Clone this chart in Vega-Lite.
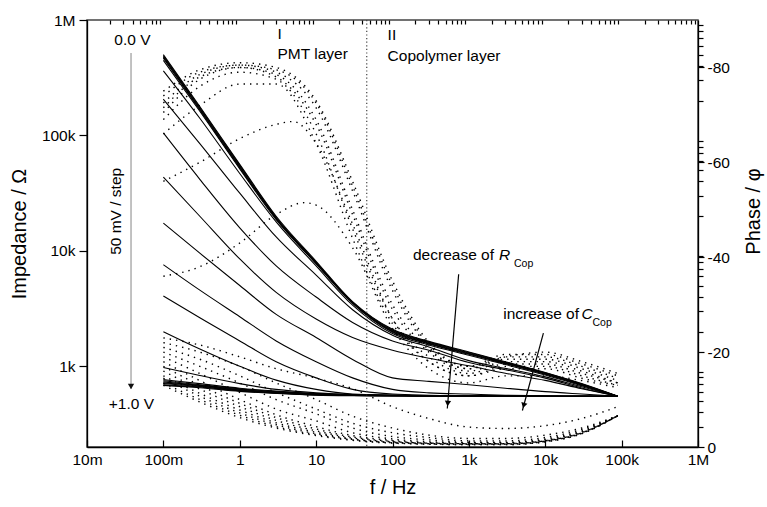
{
"$schema": "https://vega.github.io/schema/vega-lite/v6.json",
"width": 611, "height": 427,
"autosize": {"type": "none"},
"padding": {"left": 87, "top": 20, "right": 69, "bottom": 60},
"config": {
  "font": "Liberation Sans",
  "view": {"stroke": "#444", "strokeWidth": 1.5},
  "axis": {"labelFont": "Liberation Sans", "labelFontSize": 15.5, "labelColor": "#000", "titleFont": "Liberation Sans", "titleFontSize": 20, "titleFontWeight": "normal", "titleColor": "#000", "domainColor": "#000", "tickColor": "#000", "grid": false, "domainWidth": 1.3, "tickWidth": 1.2}
},
"datasets": {
"imp": [
{"c":0,"f":0.1,"z":501000},{"c":0,"f":0.3,"z":178000},{"c":0,"f":1,"z":56200},{"c":0,"f":3,"z":19950},{"c":0,"f":10,"z":8130},{"c":0,"f":30,"z":3630},{"c":0,"f":100,"z":2090},{"c":0,"f":300,"z":1644},{"c":0,"f":1000,"z":1330},{"c":0,"f":3000,"z":1096},{"c":0,"f":10000,"z":885},{"c":0,"f":30000,"z":708},{"c":0,"f":89000,"z":550},
{"c":1,"f":0.1,"z":490000},{"c":1,"f":0.3,"z":174000},{"c":1,"f":1,"z":55000},{"c":1,"f":3,"z":19500},{"c":1,"f":10,"z":7940},{"c":1,"f":30,"z":3590},{"c":1,"f":100,"z":2060},{"c":1,"f":300,"z":1625},{"c":1,"f":1000,"z":1315},{"c":1,"f":3000,"z":1085},{"c":1,"f":10000,"z":877},{"c":1,"f":30000,"z":703},{"c":1,"f":89000,"z":550},
{"c":2,"f":0.1,"z":479000},{"c":2,"f":0.3,"z":170000},{"c":2,"f":1,"z":53700},{"c":2,"f":3,"z":19050},{"c":2,"f":10,"z":7940},{"c":2,"f":30,"z":3550},{"c":2,"f":100,"z":2030},{"c":2,"f":300,"z":1605},{"c":2,"f":1000,"z":1300},{"c":2,"f":3000,"z":1075},{"c":2,"f":10000,"z":870},{"c":2,"f":30000,"z":698},{"c":2,"f":89000,"z":550},
{"c":3,"f":0.1,"z":468000},{"c":3,"f":0.3,"z":166000},{"c":3,"f":1,"z":52500},{"c":3,"f":3,"z":19050},{"c":3,"f":10,"z":7760},{"c":3,"f":30,"z":3550},{"c":3,"f":100,"z":2000},{"c":3,"f":300,"z":1585},{"c":3,"f":1000,"z":1285},{"c":3,"f":3000,"z":1065},{"c":3,"f":10000,"z":862},{"c":3,"f":30000,"z":693},{"c":3,"f":89000,"z":550},
{"c":4,"f":0.1,"z":447000},{"c":4,"f":0.3,"z":162000},{"c":4,"f":1,"z":51300},{"c":4,"f":3,"z":18600},{"c":4,"f":10,"z":7760},{"c":4,"f":30,"z":3510},{"c":4,"f":100,"z":1970},{"c":4,"f":300,"z":1565},{"c":4,"f":1000,"z":1270},{"c":4,"f":3000,"z":1055},{"c":4,"f":10000,"z":855},{"c":4,"f":30000,"z":688},{"c":4,"f":89000,"z":550},
{"c":5,"f":0.1,"z":363000},{"c":5,"f":0.3,"z":141000},{"c":5,"f":1,"z":46800},{"c":5,"f":3,"z":17800},{"c":5,"f":10,"z":7410},{"c":5,"f":30,"z":3390},{"c":5,"f":100,"z":1920},{"c":5,"f":300,"z":1530},{"c":5,"f":1000,"z":1245},{"c":5,"f":3000,"z":1035},{"c":5,"f":10000,"z":840},{"c":5,"f":30000,"z":680},{"c":5,"f":89000,"z":550},
{"c":6,"f":0.1,"z":206000},{"c":6,"f":0.3,"z":85100},{"c":6,"f":1,"z":31600},{"c":6,"f":3,"z":13200},{"c":6,"f":10,"z":6170},{"c":6,"f":30,"z":3090},{"c":6,"f":100,"z":1860},{"c":6,"f":300,"z":1470},{"c":6,"f":1000,"z":1120},{"c":6,"f":3000,"z":960},{"c":6,"f":10000,"z":810},{"c":6,"f":30000,"z":665},{"c":6,"f":89000,"z":550},
{"c":7,"f":0.1,"z":105000},{"c":7,"f":0.3,"z":41700},{"c":7,"f":1,"z":15850},{"c":7,"f":3,"z":7410},{"c":7,"f":10,"z":3980},{"c":7,"f":30,"z":2400},{"c":7,"f":100,"z":1660},{"c":7,"f":300,"z":1380},{"c":7,"f":1000,"z":1080},{"c":7,"f":3000,"z":935},{"c":7,"f":10000,"z":790},{"c":7,"f":30000,"z":650},{"c":7,"f":89000,"z":550},
{"c":8,"f":0.1,"z":43600},{"c":8,"f":0.3,"z":19950},{"c":8,"f":1,"z":8510},{"c":8,"f":3,"z":4370},{"c":8,"f":10,"z":2570},{"c":8,"f":30,"z":1778},{"c":8,"f":100,"z":1380},{"c":8,"f":300,"z":1175},{"c":8,"f":1000,"z":1010},{"c":8,"f":3000,"z":870},{"c":8,"f":10000,"z":755},{"c":8,"f":30000,"z":640},{"c":8,"f":89000,"z":550},
{"c":9,"f":0.1,"z":17400},{"c":9,"f":0.3,"z":9550},{"c":9,"f":1,"z":5010},{"c":9,"f":3,"z":2820},{"c":9,"f":10,"z":1778},{"c":9,"f":30,"z":1148},{"c":9,"f":100,"z":794},{"c":9,"f":300,"z":741},{"c":9,"f":1000,"z":692},{"c":9,"f":3000,"z":646},{"c":9,"f":10000,"z":603},{"c":9,"f":30000,"z":575},{"c":9,"f":89000,"z":550},
{"c":10,"f":0.1,"z":7590},{"c":10,"f":0.3,"z":4570},{"c":10,"f":1,"z":2690},{"c":10,"f":3,"z":1660},{"c":10,"f":10,"z":1096},{"c":10,"f":30,"z":794},{"c":10,"f":100,"z":631},{"c":10,"f":300,"z":589},{"c":10,"f":1000,"z":575},{"c":10,"f":3000,"z":562},{"c":10,"f":10000,"z":556},{"c":10,"f":30000,"z":550},{"c":10,"f":89000,"z":550},
{"c":11,"f":0.1,"z":4070},{"c":11,"f":0.3,"z":2630},{"c":11,"f":1,"z":1660},{"c":11,"f":3,"z":1096},{"c":11,"f":10,"z":794},{"c":11,"f":30,"z":631},{"c":11,"f":100,"z":575},{"c":11,"f":300,"z":562},{"c":11,"f":1000,"z":556},{"c":11,"f":3000,"z":556},{"c":11,"f":10000,"z":550},{"c":11,"f":30000,"z":550},{"c":11,"f":89000,"z":550},
{"c":12,"f":0.1,"z":1995},{"c":12,"f":0.3,"z":1413},{"c":12,"f":1,"z":1000},{"c":12,"f":3,"z":759},{"c":12,"f":10,"z":631},{"c":12,"f":30,"z":575},{"c":12,"f":100,"z":562},{"c":12,"f":300,"z":556},{"c":12,"f":1000,"z":556},{"c":12,"f":3000,"z":556},{"c":12,"f":10000,"z":550},{"c":12,"f":30000,"z":550},{"c":12,"f":89000,"z":550},
{"c":13,"f":0.1,"z":977},{"c":13,"f":0.3,"z":832},{"c":13,"f":1,"z":708},{"c":13,"f":3,"z":631},{"c":13,"f":10,"z":589},{"c":13,"f":30,"z":569},{"c":13,"f":100,"z":562},{"c":13,"f":300,"z":556},{"c":13,"f":1000,"z":556},{"c":13,"f":3000,"z":556},{"c":13,"f":10000,"z":550},{"c":13,"f":30000,"z":550},{"c":13,"f":89000,"z":550},
{"c":14,"f":0.1,"z":767},{"c":14,"f":0.3,"z":708},{"c":14,"f":1,"z":646},{"c":14,"f":3,"z":610},{"c":14,"f":10,"z":582},{"c":14,"f":30,"z":569},{"c":14,"f":100,"z":562},{"c":14,"f":300,"z":556},{"c":14,"f":1000,"z":556},{"c":14,"f":3000,"z":556},{"c":14,"f":10000,"z":550},{"c":14,"f":30000,"z":550},{"c":14,"f":89000,"z":550},
{"c":15,"f":0.1,"z":750},{"c":15,"f":0.3,"z":692},{"c":15,"f":1,"z":638},{"c":15,"f":3,"z":603},{"c":15,"f":10,"z":578},{"c":15,"f":30,"z":565},{"c":15,"f":100,"z":560},{"c":15,"f":300,"z":556},{"c":15,"f":1000,"z":556},{"c":15,"f":3000,"z":556},{"c":15,"f":10000,"z":550},{"c":15,"f":30000,"z":550},{"c":15,"f":89000,"z":550},
{"c":16,"f":0.1,"z":733},{"c":16,"f":0.3,"z":684},{"c":16,"f":1,"z":631},{"c":16,"f":3,"z":598},{"c":16,"f":10,"z":575},{"c":16,"f":30,"z":562},{"c":16,"f":100,"z":558},{"c":16,"f":300,"z":555},{"c":16,"f":1000,"z":555},{"c":16,"f":3000,"z":554},{"c":16,"f":10000,"z":550},{"c":16,"f":30000,"z":550},{"c":16,"f":89000,"z":550},
{"c":17,"f":0.1,"z":716},{"c":17,"f":0.3,"z":676},{"c":17,"f":1,"z":624},{"c":17,"f":3,"z":592},{"c":17,"f":10,"z":571},{"c":17,"f":30,"z":562},{"c":17,"f":100,"z":557},{"c":17,"f":300,"z":554},{"c":17,"f":1000,"z":554},{"c":17,"f":3000,"z":553},{"c":17,"f":10000,"z":550},{"c":17,"f":30000,"z":549},{"c":17,"f":89000,"z":549},
{"c":18,"f":0.1,"z":708},{"c":18,"f":0.3,"z":668},{"c":18,"f":1,"z":617},{"c":18,"f":3,"z":589},{"c":18,"f":10,"z":569},{"c":18,"f":30,"z":560},{"c":18,"f":100,"z":556},{"c":18,"f":300,"z":554},{"c":18,"f":1000,"z":553},{"c":18,"f":3000,"z":552},{"c":18,"f":10000,"z":549},{"c":18,"f":30000,"z":549},{"c":18,"f":89000,"z":549},
{"c":19,"f":0.1,"z":692},{"c":19,"f":0.3,"z":661},{"c":19,"f":1,"z":612},{"c":19,"f":3,"z":585},{"c":19,"f":10,"z":565},{"c":19,"f":30,"z":558},{"c":19,"f":100,"z":555},{"c":19,"f":300,"z":553},{"c":19,"f":1000,"z":552},{"c":19,"f":3000,"z":551},{"c":19,"f":10000,"z":549},{"c":19,"f":30000,"z":548},{"c":19,"f":89000,"z":548},
{"c":20,"f":0.1,"z":684},{"c":20,"f":0.3,"z":653},{"c":20,"f":1,"z":607},{"c":20,"f":3,"z":582},{"c":20,"f":10,"z":562},{"c":20,"f":30,"z":556},{"c":20,"f":100,"z":554},{"c":20,"f":300,"z":552},{"c":20,"f":1000,"z":551},{"c":20,"f":3000,"z":550},{"c":20,"f":10000,"z":548},{"c":20,"f":30000,"z":548},{"c":20,"f":89000,"z":548}
],
"ph": [
{"c":0,"f":0.1,"p":-75},{"c":0,"f":0.3,"p":-79.5},{"c":0,"f":1,"p":-81},{"c":0,"f":3,"p":-80},{"c":0,"f":10,"p":-73},{"c":0,"f":30,"p":-56},{"c":0,"f":100,"p":-35},{"c":0,"f":300,"p":-22},{"c":0,"f":1000,"p":-17},{"c":0,"f":3000,"p":-19},{"c":0,"f":10000,"p":-20},{"c":0,"f":30000,"p":-18},{"c":0,"f":89000,"p":-15.5},
{"c":1,"f":0.1,"p":-74},{"c":1,"f":0.3,"p":-79},{"c":1,"f":1,"p":-80.5},{"c":1,"f":3,"p":-79.5},{"c":1,"f":10,"p":-72.5},{"c":1,"f":30,"p":-55},{"c":1,"f":100,"p":-34},{"c":1,"f":300,"p":-21.5},{"c":1,"f":1000,"p":-17},{"c":1,"f":3000,"p":-19.5},{"c":1,"f":10000,"p":-19.5},{"c":1,"f":30000,"p":-17.5},{"c":1,"f":89000,"p":-15},
{"c":2,"f":0.1,"p":-72.5},{"c":2,"f":0.3,"p":-78.5},{"c":2,"f":1,"p":-80.5},{"c":2,"f":3,"p":-79},{"c":2,"f":10,"p":-71.5},{"c":2,"f":30,"p":-54},{"c":2,"f":100,"p":-33},{"c":2,"f":300,"p":-21},{"c":2,"f":1000,"p":-16.5},{"c":2,"f":3000,"p":-19},{"c":2,"f":10000,"p":-19},{"c":2,"f":30000,"p":-17},{"c":2,"f":89000,"p":-14.5},
{"c":3,"f":0.1,"p":-71.5},{"c":3,"f":0.3,"p":-78},{"c":3,"f":1,"p":-80},{"c":3,"f":3,"p":-78.5},{"c":3,"f":10,"p":-69},{"c":3,"f":30,"p":-50},{"c":3,"f":100,"p":-30},{"c":3,"f":300,"p":-20.5},{"c":3,"f":1000,"p":-16.5},{"c":3,"f":3000,"p":-18.5},{"c":3,"f":10000,"p":-18.5},{"c":3,"f":30000,"p":-16.5},{"c":3,"f":89000,"p":-14},
{"c":4,"f":0.1,"p":-70.5},{"c":4,"f":0.3,"p":-77.5},{"c":4,"f":1,"p":-80},{"c":4,"f":3,"p":-78},{"c":4,"f":10,"p":-68},{"c":4,"f":30,"p":-49},{"c":4,"f":100,"p":-29},{"c":4,"f":300,"p":-20},{"c":4,"f":1000,"p":-16},{"c":4,"f":3000,"p":-18},{"c":4,"f":10000,"p":-18},{"c":4,"f":30000,"p":-16},{"c":4,"f":89000,"p":-13.5},
{"c":5,"f":0.1,"p":-69},{"c":5,"f":0.3,"p":-76},{"c":5,"f":1,"p":-79},{"c":5,"f":3,"p":-77.5},{"c":5,"f":10,"p":-66},{"c":5,"f":30,"p":-46},{"c":5,"f":100,"p":-27},{"c":5,"f":300,"p":-19},{"c":5,"f":1000,"p":-15.5},{"c":5,"f":3000,"p":-17.5},{"c":5,"f":10000,"p":-17.5},{"c":5,"f":30000,"p":-15.5},{"c":5,"f":89000,"p":-13.5},
{"c":6,"f":0.1,"p":-66},{"c":6,"f":0.3,"p":-72},{"c":6,"f":1,"p":-76.5},{"c":6,"f":3,"p":-76.5},{"c":6,"f":10,"p":-64},{"c":6,"f":30,"p":-44},{"c":6,"f":100,"p":-26},{"c":6,"f":300,"p":-18},{"c":6,"f":1000,"p":-15},{"c":6,"f":3000,"p":-17},{"c":6,"f":10000,"p":-17},{"c":6,"f":30000,"p":-15},{"c":6,"f":89000,"p":-13},
{"c":7,"f":0.1,"p":-56},{"c":7,"f":0.3,"p":-60},{"c":7,"f":1,"p":-65},{"c":7,"f":3,"p":-68},{"c":7,"f":5,"p":-68.6},{"c":7,"f":10,"p":-64},{"c":7,"f":30,"p":-47},{"c":7,"f":100,"p":-27},{"c":7,"f":300,"p":-18},{"c":7,"f":1000,"p":-15},{"c":7,"f":3000,"p":-16.5},{"c":7,"f":10000,"p":-16.5},{"c":7,"f":30000,"p":-14.5},{"c":7,"f":89000,"p":-13},
{"c":8,"f":0.1,"p":-36},{"c":8,"f":0.3,"p":-38},{"c":8,"f":1,"p":-43},{"c":8,"f":3,"p":-49},{"c":8,"f":7,"p":-51.5},{"c":8,"f":10,"p":-51},{"c":8,"f":30,"p":-42},{"c":8,"f":100,"p":-25},{"c":8,"f":300,"p":-16.5},{"c":8,"f":1000,"p":-13.5},{"c":8,"f":3000,"p":-15},{"c":8,"f":10000,"p":-15},{"c":8,"f":30000,"p":-14},{"c":8,"f":89000,"p":-12.5},
{"c":9,"f":0.1,"p":-23},{"c":9,"f":0.3,"p":-21.5},{"c":9,"f":1,"p":-19},{"c":9,"f":3,"p":-16.5},{"c":9,"f":10,"p":-14.5},{"c":9,"f":30,"p":-12.3},{"c":9,"f":100,"p":-8.5},{"c":9,"f":300,"p":-6},{"c":9,"f":1000,"p":-4.2},{"c":9,"f":3000,"p":-3.9},{"c":9,"f":10000,"p":-4.5},{"c":9,"f":30000,"p":-6},{"c":9,"f":89000,"p":-8.5},
{"c":10,"f":0.1,"p":-22},{"c":10,"f":0.3,"p":-20},{"c":10,"f":1,"p":-17},{"c":10,"f":3,"p":-13.5},{"c":10,"f":10,"p":-10},{"c":10,"f":30,"p":-6.5},{"c":10,"f":100,"p":-4},{"c":10,"f":300,"p":-2.5},{"c":10,"f":1000,"p":-1.8},{"c":10,"f":3000,"p":-1.8},{"c":10,"f":10000,"p":-2.5},{"c":10,"f":30000,"p":-4},{"c":10,"f":89000,"p":-6.6},
{"c":11,"f":0.1,"p":-21},{"c":11,"f":0.3,"p":-18.5},{"c":11,"f":1,"p":-15},{"c":11,"f":3,"p":-11.5},{"c":11,"f":10,"p":-8},{"c":11,"f":30,"p":-5},{"c":11,"f":100,"p":-3},{"c":11,"f":300,"p":-2},{"c":11,"f":1000,"p":-1.3},{"c":11,"f":3000,"p":-1.3},{"c":11,"f":10000,"p":-2},{"c":11,"f":30000,"p":-3.7},{"c":11,"f":89000,"p":-6.6},
{"c":12,"f":0.1,"p":-20},{"c":12,"f":0.3,"p":-17},{"c":12,"f":1,"p":-13.5},{"c":12,"f":3,"p":-10},{"c":12,"f":10,"p":-7},{"c":12,"f":30,"p":-4},{"c":12,"f":100,"p":-2.2},{"c":12,"f":300,"p":-1.5},{"c":12,"f":1000,"p":-1},{"c":12,"f":3000,"p":-1},{"c":12,"f":10000,"p":-1.7},{"c":12,"f":30000,"p":-3.4},{"c":12,"f":89000,"p":-6.6},
{"c":13,"f":0.1,"p":-19},{"c":13,"f":0.3,"p":-15.5},{"c":13,"f":1,"p":-11.5},{"c":13,"f":3,"p":-8},{"c":13,"f":10,"p":-5.5},{"c":13,"f":30,"p":-3},{"c":13,"f":100,"p":-1.7},{"c":13,"f":300,"p":-1.1},{"c":13,"f":1000,"p":-0.9},{"c":13,"f":3000,"p":-0.9},{"c":13,"f":10000,"p":-1.5},{"c":13,"f":30000,"p":-3.2},{"c":13,"f":89000,"p":-6.6},
{"c":14,"f":0.1,"p":-18},{"c":14,"f":0.3,"p":-14},{"c":14,"f":1,"p":-10},{"c":14,"f":3,"p":-6.8},{"c":14,"f":10,"p":-4.3},{"c":14,"f":30,"p":-2.4},{"c":14,"f":100,"p":-1.4},{"c":14,"f":300,"p":-0.9},{"c":14,"f":1000,"p":-0.8},{"c":14,"f":3000,"p":-0.8},{"c":14,"f":10000,"p":-1.4},{"c":14,"f":30000,"p":-3.1},{"c":14,"f":89000,"p":-6.6},
{"c":15,"f":0.1,"p":-17},{"c":15,"f":0.3,"p":-13},{"c":15,"f":1,"p":-9.2},{"c":15,"f":3,"p":-6.2},{"c":15,"f":10,"p":-3.8},{"c":15,"f":30,"p":-2.1},{"c":15,"f":100,"p":-1.2},{"c":15,"f":300,"p":-0.8},{"c":15,"f":1000,"p":-0.7},{"c":15,"f":3000,"p":-0.7},{"c":15,"f":10000,"p":-1.3},{"c":15,"f":30000,"p":-3},{"c":15,"f":89000,"p":-6.6},
{"c":16,"f":0.1,"p":-16},{"c":16,"f":0.3,"p":-12.2},{"c":16,"f":1,"p":-8.5},{"c":16,"f":3,"p":-5.6},{"c":16,"f":10,"p":-3.4},{"c":16,"f":30,"p":-1.9},{"c":16,"f":100,"p":-1.1},{"c":16,"f":300,"p":-0.8},{"c":16,"f":1000,"p":-0.7},{"c":16,"f":3000,"p":-0.7},{"c":16,"f":10000,"p":-1.3},{"c":16,"f":30000,"p":-3},{"c":16,"f":89000,"p":-6.6},
{"c":17,"f":0.1,"p":-15},{"c":17,"f":0.3,"p":-11.3},{"c":17,"f":1,"p":-7.8},{"c":17,"f":3,"p":-5.1},{"c":17,"f":10,"p":-3.1},{"c":17,"f":30,"p":-1.7},{"c":17,"f":100,"p":-1},{"c":17,"f":300,"p":-0.7},{"c":17,"f":1000,"p":-0.6},{"c":17,"f":3000,"p":-0.6},{"c":17,"f":10000,"p":-1.2},{"c":17,"f":30000,"p":-2.9},{"c":17,"f":89000,"p":-6.6},
{"c":18,"f":0.1,"p":-14.5},{"c":18,"f":0.3,"p":-10.7},{"c":18,"f":1,"p":-7.2},{"c":18,"f":3,"p":-4.7},{"c":18,"f":10,"p":-2.8},{"c":18,"f":30,"p":-1.6},{"c":18,"f":100,"p":-0.9},{"c":18,"f":300,"p":-0.7},{"c":18,"f":1000,"p":-0.6},{"c":18,"f":3000,"p":-0.6},{"c":18,"f":10000,"p":-1.2},{"c":18,"f":30000,"p":-2.9},{"c":18,"f":89000,"p":-6.6},
{"c":19,"f":0.1,"p":-13.5},{"c":19,"f":0.3,"p":-10},{"c":19,"f":1,"p":-6.7},{"c":19,"f":3,"p":-4.3},{"c":19,"f":10,"p":-2.6},{"c":19,"f":30,"p":-1.5},{"c":19,"f":100,"p":-0.9},{"c":19,"f":300,"p":-0.6},{"c":19,"f":1000,"p":-0.5},{"c":19,"f":3000,"p":-0.5},{"c":19,"f":10000,"p":-1.1},{"c":19,"f":30000,"p":-2.8},{"c":19,"f":89000,"p":-6.6},
{"c":20,"f":0.1,"p":-13},{"c":20,"f":0.3,"p":-9.5},{"c":20,"f":1,"p":-6.2},{"c":20,"f":3,"p":-4},{"c":20,"f":10,"p":-2.4},{"c":20,"f":30,"p":-1.4},{"c":20,"f":100,"p":-0.8},{"c":20,"f":300,"p":-0.6},{"c":20,"f":1000,"p":-0.5},{"c":20,"f":3000,"p":-0.5},{"c":20,"f":10000,"p":-1.1},{"c":20,"f":30000,"p":-2.8},{"c":20,"f":89000,"p":-6.6}
]
},
"resolve": {"scale": {"y": "independent"}, "axis": {"x": "independent", "y": "independent"}},
"layer": [
{
  "resolve": {"axis": {"x": "independent", "y": "independent"}},
  "layer": [
    {"data": {"name": "imp"},
     "mark": {"type": "line", "color": "#000", "strokeWidth": 1.1, "interpolate": "monotone"},
     "encoding": {
       "x": {"field": "f", "type": "quantitative", "scale": {"type": "log", "domain": [0.01, 1000000], "nice": false},
             "axis": {"values": [0.01,0.1,1,10,100,1000,10000,100000,1000000], "labelExpr": "datum.value >= 1000000 ? '1M' : datum.value >= 1000 ? (datum.value/1000) + 'k' : datum.value >= 1 ? '' + datum.value : (datum.value*1000) + 'm'", "title": "f / Hz", "tickSize": -7, "labelPadding": 12, "titlePadding": 10, "labelFlush": false, "labelOverlap": false}},
       "y": {"field": "z", "type": "quantitative", "scale": {"type": "log", "domain": [200, 1000000], "nice": false},
             "axis": {"values": [1000,10000,100000,1000000], "labelExpr": "datum.value >= 1000000 ? '1M' : (datum.value/1000) + 'k'", "title": "Impedance / Ω", "tickSize": 8, "labelPadding": 4, "titlePadding": 12, "labelFlush": false, "labelOverlap": false}},
       "detail": {"field": "c"}
     }},
    {"data": {"name": "imp"},
     "mark": {"type": "line", "strokeOpacity": 0},
     "encoding": {
       "x": {"field": "f", "type": "quantitative",
             "axis": {"values": [0.02,0.03,0.04,0.05,0.06,0.07,0.08,0.09,0.2,0.3,0.4,0.5,0.6,0.7,0.8,0.9,2,3,4,5,6,7,8,9,20,30,40,50,60,70,80,90,200,300,400,500,600,700,800,900,2000,3000,4000,5000,6000,7000,8000,9000,20000,30000,40000,50000,60000,70000,80000,90000,200000,300000,400000,500000,600000,700000,800000,900000], "labels": false, "domain": false, "title": null, "tickSize": -4}},
       "y": {"field": "z", "type": "quantitative",
             "axis": {"values": [300,400,500,600,700,800,900,2000,3000,4000,5000,6000,7000,8000,9000,20000,30000,40000,50000,60000,70000,80000,90000,200000,300000,400000,500000,600000,700000,800000,900000], "labels": false, "domain": false, "title": null, "tickSize": 5}},
       "detail": {"field": "c"}
     }},
    {"data": {"values": [{"f": 46}]},
     "mark": {"type": "rule", "color": "#444", "strokeWidth": 1.2, "strokeDash": [1.2, 2.4]},
     "encoding": {"x": {"field": "f", "type": "quantitative", "axis": null}}},
    {"data": {"values": [{"f": 0.0377, "z": 517000, "z2": 640}]},
     "mark": {"type": "rule", "color": "#999", "strokeWidth": 1.2},
     "encoding": {"x": {"field": "f", "type": "quantitative", "axis": null}, "y": {"field": "z", "type": "quantitative", "axis": null}, "y2": {"field": "z2"}}},
    {"data": {"values": [{"f": 0.0377, "z": 670}]},
     "mark": {"type": "point", "shape": "triangle-down", "filled": true, "color": "#111", "size": 40, "opacity": 1},
     "encoding": {"x": {"field": "f", "type": "quantitative", "axis": null}, "y": {"field": "z", "type": "quantitative", "axis": null}}},
    {"data": {"values": [{"f": 735, "z": 6270, "f2": 522, "z2": 431}, {"f": 9460, "z": 1941, "f2": 5020, "z2": 414}]},
     "mark": {"type": "rule", "color": "#000", "strokeWidth": 1.2},
     "encoding": {"x": {"field": "f", "type": "quantitative", "axis": null}, "y": {"field": "z", "type": "quantitative", "axis": null}, "x2": {"field": "f2"}, "y2": {"field": "z2"}}},
    {"data": {"values": [{"f": 529, "z": 477}]},
     "mark": {"type": "point", "shape": "triangle-down", "filled": true, "color": "#000", "size": 40, "opacity": 1, "angle": 5},
     "encoding": {"x": {"field": "f", "type": "quantitative", "axis": null}, "y": {"field": "z", "type": "quantitative", "axis": null}}},
    {"data": {"values": [{"f": 5220, "z": 458}]},
     "mark": {"type": "point", "shape": "triangle-down", "filled": true, "color": "#000", "size": 40, "opacity": 1, "angle": 15},
     "encoding": {"x": {"field": "f", "type": "quantitative", "axis": null}, "y": {"field": "z", "type": "quantitative", "axis": null}}},
    {"data": {"values": [{"f": 0.0393, "z": 671000, "t": "0.0 V"}, {"f": 0.0381, "z": 476, "t": "+1.0 V"}]},
     "mark": {"type": "text", "fontSize": 15.5, "align": "center", "baseline": "middle", "color": "#000"},
     "encoding": {"x": {"field": "f", "type": "quantitative", "axis": null}, "y": {"field": "z", "type": "quantitative", "axis": null}, "text": {"field": "t"}}},
    {"data": {"values": [{"f": 0.0242, "z": 22000, "t": "50 mV / step"}]},
     "mark": {"type": "text", "fontSize": 15.5, "align": "center", "baseline": "middle", "angle": 270, "color": "#000"},
     "encoding": {"x": {"field": "f", "type": "quantitative", "axis": null}, "y": {"field": "z", "type": "quantitative", "axis": null}, "text": {"field": "t"}}},
    {"data": {"values": [{"f": 3.12, "z": 757000, "t": "I"}, {"f": 3.12, "z": 507000, "t": "PMT layer"}, {"f": 86.3, "z": 741000, "t": "II"}, {"f": 86.3, "z": 488000, "t": "Copolymer layer"}]},
     "mark": {"type": "text", "fontSize": 15.5, "align": "left", "baseline": "middle", "color": "#000"},
     "encoding": {"x": {"field": "f", "type": "quantitative", "axis": null}, "y": {"field": "z", "type": "quantitative", "axis": null}, "text": {"field": "t"}}},
    {"data": {"values": [{"f": 2133, "z": 9160, "t": "decrease of"}, {"f": 27700, "z": 2820, "t": "increase of"}]},
     "mark": {"type": "text", "fontSize": 15.5, "align": "right", "baseline": "middle", "color": "#000"},
     "encoding": {"x": {"field": "f", "type": "quantitative", "axis": null}, "y": {"field": "z", "type": "quantitative", "axis": null}, "text": {"field": "t"}}},
    {"data": {"values": [{"f": 2480, "z": 9160, "t": "R"}, {"f": 29800, "z": 2820, "t": "C"}]},
     "mark": {"type": "text", "fontSize": 15.5, "fontStyle": "italic", "align": "left", "baseline": "middle", "color": "#000"},
     "encoding": {"x": {"field": "f", "type": "quantitative", "axis": null}, "y": {"field": "z", "type": "quantitative", "axis": null}, "text": {"field": "t"}}},
    {"data": {"values": [{"f": 3900, "z": 7760, "t": "Cop"}, {"f": 41600, "z": 2377, "t": "Cop"}]},
     "mark": {"type": "text", "fontSize": 10.5, "align": "left", "baseline": "middle", "color": "#000"},
     "encoding": {"x": {"field": "f", "type": "quantitative", "axis": null}, "y": {"field": "z", "type": "quantitative", "axis": null}, "text": {"field": "t"}}}
  ]
},
{"data": {"name": "ph"},
 "mark": {"type": "line", "color": "#000", "strokeWidth": 1.4, "strokeDash": [1.4, 5], "interpolate": "monotone"},
 "encoding": {
   "x": {"field": "f", "type": "quantitative", "scale": {"type": "log", "domain": [0.01, 1000000], "nice": false}, "axis": null},
   "y": {"field": "p", "type": "quantitative", "scale": {"type": "linear", "domain": [0, -90], "nice": false, "zero": false},
         "axis": {"orient": "right", "values": [0,-20,-40,-60,-80], "labelExpr": "'' + datum.value", "title": "Phase / φ", "titleAngle": 270, "titleBaseline": "top", "titleY": 191, "tickSize": 6, "labelPadding": 3, "titlePadding": 14, "labelFlush": false, "labelOverlap": false}},
   "detail": {"field": "c"}
 }}
]
}
